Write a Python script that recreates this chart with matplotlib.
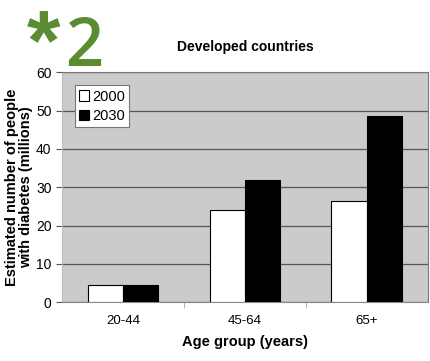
import numpy as np
import matplotlib
matplotlib.use("Agg")
import matplotlib.pyplot as plt

#data
groups = ["20-44", "45-64", "65+"]
years = ["2000", "2030"]
vals_2000 = [4.5, 24, 26.5]
vals_2030 = [4.5, 32, 48.5]

plt.rcParams['font.family'] = ['Liberation Sans', 'DejaVu Sans']

fig = plt.figure(figsize=(4.3, 3.61), dpi=100)
ax = fig.add_axes([0.144, 0.163, 0.851, 0.637])
ax.set_facecolor("#cbcbcb")

x = np.arange(len(groups))
w = 0.29
ax.bar(x - w/2, vals_2000, w, color="white", edgecolor="black", linewidth=0.8, label=years[0], zorder=3)
ax.bar(x + w/2, vals_2030, w, color="black", edgecolor="black", linewidth=0.8, label=years[1], zorder=3)

ax.set_xlim(-0.5, 2.5)
ax.set_ylim(0, 60)
ax.set_yticks(range(0, 61, 10))
ax.set_xticks(x)
ax.set_xticklabels(groups, fontsize=9.5)
ax.tick_params(axis='x', length=0, pad=9)
ax.tick_params(axis='y', labelsize=10, length=4, color="#555555")
ax.set_xticks([0.5, 1.5], minor=True)
ax.tick_params(axis='x', which='minor', length=4, color="#aaaaaa")
ax.yaxis.grid(True, color="#555555", linewidth=0.9, zorder=1)
for s in ["top", "right"]:
    ax.spines[s].set_color("#777777")
ax.spines["left"].set_color("#bbbbbb")
ax.spines["bottom"].set_color("#888888")

ax.set_title("Developed countries", fontsize=10, fontweight="bold", pad=15)
ax.set_xlabel("Age group (years)", fontsize=10.5, fontweight="bold", labelpad=6)
ax.set_ylabel("Estimated number of people\nwith diabetes (millions)", fontsize=10.5,
              fontweight="bold", labelpad=2, linespacing=1.05)

leg = ax.legend(loc="upper left", bbox_to_anchor=(0.015, 0.975), fontsize=10.5, frameon=True,
                fancybox=False, edgecolor="#777777", framealpha=1, handlelength=0.7,
                handleheight=0.7, handletextpad=0.2, borderpad=0.3, labelspacing=0.35)
leg.get_frame().set_linewidth(0.8)

#the green "*2" tag, star drawn a bit larger like in the scan
fig.text(0.062, 0.807, "*", fontsize=62, color="#5b8c32", fontweight="bold")
fig.text(0.152, 0.818, "2", fontsize=48, color="#5b8c32", fontweight="semibold",
         family="Open Sans")

fig.savefig("out.png", dpi=100)
